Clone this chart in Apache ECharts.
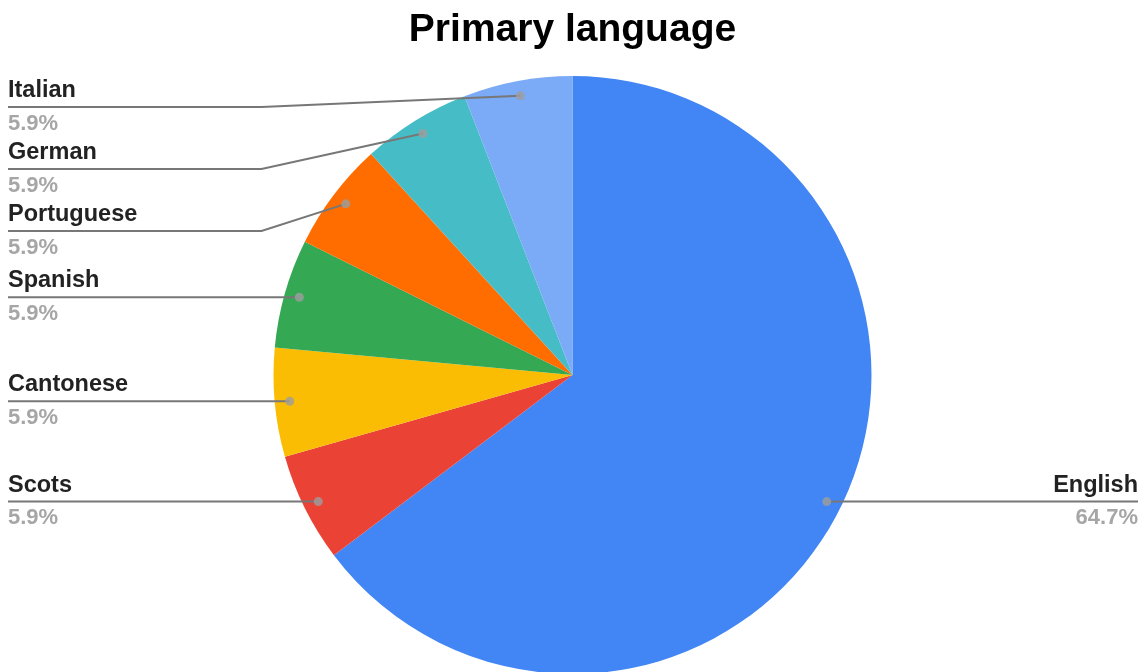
<!DOCTYPE html>
<html>
<head>
<meta charset="utf-8">
<script src="https://cdn.jsdelivr.net/npm/echarts@6/dist/echarts.min.js"></script>
<style>html,body{margin:0;padding:0;background:#fff}#c{width:1145px;height:672px}</style>
</head>
<body>
<div id="c"></div>
<script>
const categories = ['English', 'Scots', 'Cantonese', 'Spanish', 'Portuguese', 'German', 'Italian'];
const values = [11, 1, 1, 1, 1, 1, 1];
const colors = ['#4285F4', '#EA4335', '#FBBC04', '#34A853', '#FF6D01', '#46BDC6', '#7BAAF7'];

const chart = echarts.init(document.getElementById('c'), null, {renderer: 'canvas'});
const W = chart.getWidth();
const CX = W / 2, CY = 375, R = 299, DOT_R = 284;
const total = values.reduce((a, b) => a + b, 0);

// mid angles (units of value) and dot positions
const mids = [];
let cum = 0;
values.forEach(v => { mids.push(cum + v / 2); cum += v; });
const dots = mids.map(m => {
  const a = Math.PI / 2 - m / total * 2 * Math.PI;
  return [CX + DOT_R * Math.cos(a), CY - DOT_R * Math.sin(a)];
});
// label line y positions: left labels from top down with min spacing
const labelY = dots.map(d => d[1]);
const leftIdx = dots.map((d, i) => i).filter(i => dots[i][0] < CX).sort((a, b) => dots[a][1] - dots[b][1]);
let prev = -Infinity;
leftIdx.forEach(i => {
  let y = Math.max(dots[i][1], prev + 62, 107);
  labelY[i] = y; prev = y;
});

const pieData = categories.map((c, i) => ({name: c, value: values[i], itemStyle: {color: colors[i]}}));

const option = {
  animation: false,
  title: {
    text: 'Primary language', left: 'center', top: 6,
    textStyle: {fontFamily: 'Liberation Sans', fontSize: 39, fontWeight: 'bold', color: '#000'}
  },
  polar: {center: [CX, CY], radius: R},
  angleAxis: {type: 'value', min: 0, max: total, startAngle: 90, clockwise: true, show: false},
  radiusAxis: {type: 'value', min: 0, max: R, show: false},
  series: [{
    type: 'pie',
    center: [CX, CY],
    radius: [0, R],
    startAngle: 90,
    clockwise: true,
    data: pieData,
    itemStyle: {borderWidth: 0},
    label: {show: false},
    labelLine: {show: false},
    silent: true,
    z: 1
  }, {
    type: 'pie',
    center: [CX, CY],
    radius: [0, R],
    startAngle: 90,
    clockwise: true,
    data: pieData.map(d => ({name: d.name, value: d.value, itemStyle: {color: 'rgba(0,0,0,0)'}})),
    itemStyle: {borderWidth: 0},
    silent: true,
    label: {
      show: true,
      formatter: p => '{n|' + p.name + '}\n{p|' + p.percent.toFixed(1) + '%}',
      rich: {
        n: {fontFamily: 'Liberation Sans', fontSize: 23.5, fontWeight: 'bold', color: '#222', lineHeight: 33},
        p: {fontFamily: 'Liberation Sans', fontSize: 22, fontWeight: 'bold', color: '#a6a6a6', lineHeight: 33}
      }
    },
    labelLine: {show: true, showAbove: true, lineStyle: {color: '#777', width: 2}},
    labelLayout: function (params) {
      const i = params.dataIndex;
      const d = dots[i], y = labelY[i];
      if (d[0] < CX) {
        return {
          x: 8, y: y, align: 'left', verticalAlign: 'middle',
          labelLinePoints: [[d[0], d[1]], [CX - R - 12, y], [8, y]]
        };
      }
      return {
        x: W - 7, y: y, align: 'right', verticalAlign: 'middle',
        labelLinePoints: [[d[0], d[1]], [CX + R + 12, y], [W - 7, y]]
      };
    },
    z: 3
  }, {
    type: 'scatter',
    coordinateSystem: 'polar',
    symbol: 'circle',
    symbolSize: 9,
    itemStyle: {color: '#9e9e9e'},
    data: mids.map(m => [DOT_R, m]),
    z: 5,
    silent: true
  }]
};
chart.setOption(option);
</script>
</body>
</html>
